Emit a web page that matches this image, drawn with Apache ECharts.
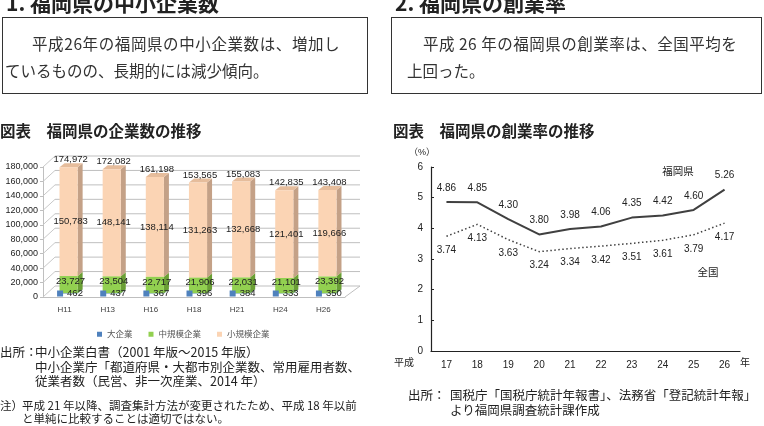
<!DOCTYPE html>
<html>
<head>
<meta charset="utf-8">
<script src="https://cdn.jsdelivr.net/npm/echarts@6/dist/echarts.min.js"></script>
<style>
  body { margin: 0; background: #fff; }
  #page { position: relative; width: 764px; height: 426px; overflow: hidden; font-family: "Noto Sans CJK JP", sans-serif; color: #222; }
  #main { position: absolute; left: 0; top: 0; width: 764px; height: 426px; }
  .t { position: absolute; white-space: nowrap; }
  .h1 { font-size: 21px; font-weight: bold; line-height: 21px; }
  .box { position: absolute; border: 1.5px solid #333; box-sizing: border-box; }
  .lead { font-size: 15.5px; line-height: 16px; color: #333; }
  .cap { font-size: 15.5px; font-weight: bold; line-height: 16px; }
  .src { font-size: 12.5px; line-height: 14px; }
  .note { font-size: 11.5px; line-height: 13px; }
</style>
</head>
<body>
<div id="page">
  <div id="main"></div>

  <div class="t h1" style="left:6px;top:-8px;">1. 福岡県の中小企業数</div>
  <div class="box" style="left:2px;top:17px;width:366px;height:77px;"></div>
  <div class="t lead" style="left:32px;top:35px;letter-spacing:0.6px;">平成26年の福岡県の中小企業数は、増加し</div>
  <div class="t lead" style="left:5px;top:62px;">ているものの、長期的には減少傾向。</div>
  <div class="t cap" style="left:0px;top:122px;">図表　福岡県の企業数の推移</div>
  <div class="t src" style="left:0px;top:345px;">出所：</div>
  <div class="t src" style="left:35px;top:345px;">中小企業白書（2001 年版～2015 年版）</div>
  <div class="t src" style="left:35px;top:360px;">中小企業庁「都道府県・大都市別企業数、常用雇用者数、</div>
  <div class="t src" style="left:35px;top:374px;">従業者数（民営、非一次産業、2014 年）</div>
  <div class="t note" style="left:0px;top:399px;">注）</div>
  <div class="t note" style="left:22px;top:399px;">平成 21 年以降、調査集計方法が変更されたため、平成 18 年以前</div>
  <div class="t note" style="left:22px;top:412px;">と単純に比較することは適切ではない。</div>

  <div class="t h1" style="left:395px;top:-8px;">2. 福岡県の創業率</div>
  <div class="box" style="left:391px;top:17px;width:371px;height:77px;"></div>
  <div class="t lead" style="left:423px;top:35px;letter-spacing:0.5px;">平成 26 年の福岡県の創業率は、全国平均を</div>
  <div class="t lead" style="left:407px;top:62px;">上回った。</div>
  <div class="t cap" style="left:393px;top:122px;">図表　福岡県の創業率の推移</div>
  <div class="t src" style="left:408px;top:388px;">出所：</div>
  <div class="t src" style="left:450px;top:388px;">国税庁「国税庁統計年報書」、法務省「登記統計年報」</div>
  <div class="t src" style="left:450px;top:403px;">より福岡県調査統計課作成</div>
</div>
<script>
// 企業数（H11〜H26）
var cats1 = ['H11', 'H13', 'H16', 'H18', 'H21', 'H24', 'H26'];
var large = [462, 437, 367, 396, 384, 333, 350];
var medium = [23727, 23504, 22717, 21906, 22031, 21101, 23392];
var small = [150783, 148141, 138114, 131263, 132668, 121401, 119666];
var totals = [174972, 172082, 161198, 153565, 155083, 142835, 143408];
var yTicks1 = [0, 20000, 40000, 60000, 80000, 100000, 120000, 140000, 160000, 180000];

// 創業率（平成17〜26年）
var years = ['17', '18', '19', '20', '21', '22', '23', '24', '25', '26'];
var fukuoka = [4.86, 4.85, 4.30, 3.80, 3.98, 4.06, 4.35, 4.42, 4.60, 5.26];
var zenkoku = [3.74, 4.13, 3.63, 3.24, 3.34, 3.42, 3.51, 3.61, 3.79, 4.17];

var FONT = '"Liberation Sans", "Noto Sans CJK JP", sans-serif';
var fmt = function (v) { return Number(v).toLocaleString('en-US'); };

var stackLarge = [], stackMedium = [], stackSmall = [], totalData = [];
for (var i = 0; i < cats1.length; i++) {
  var b1 = large[i], b2 = large[i] + medium[i];
  stackLarge.push([i, 0, b1, large[i]]);
  stackMedium.push([i, b1, b2, medium[i]]);
  stackSmall.push([i, b2, b2 + small[i], small[i]]);
  totalData.push([i, totals[i]]);
}

// 棒の前面の位置
function front(api) {
  var i = api.value(0);
  var p0 = api.coord([i, api.value(1)]);
  var p1 = api.coord([i, api.value(2)]);
  var w = api.size([1, 0])[0] * 0.42;
  var x0 = p0[0] - w / 2 + 4;
  return { x0: x0, x1: x0 + w, w: w, cx: x0 + w / 2, yb: p0[1] - 3.5, yt: p1[1] - 3.5 };
}

// 疑似3Dの直方体
function cuboid(face, side, top) {
  return function (params, api) {
    var f = front(api);
    return {
      type: 'group',
      children: [
        { type: 'polygon', shape: { points: [[f.x1, f.yb], [f.x1 + 5, f.yb - 4], [f.x1 + 5, f.yt - 4], [f.x1, f.yt]] }, style: { fill: side } },
        { type: 'polygon', shape: { points: [[f.x0, f.yt], [f.x1, f.yt], [f.x1 + 5, f.yt - 4], [f.x0 + 5, f.yt - 4]] }, style: { fill: top } },
        { type: 'rect', shape: { x: f.x0, y: f.yt, width: f.w, height: Math.max(f.yb - f.yt, 0) }, style: { fill: face } }
      ]
    };
  };
}

// 各区分のラベル
function segLabel(kind) {
  return function (params, api) {
    var f = front(api);
    var txt = fmt(api.value(3));
    if (kind === 'large') {
      return {
        type: 'group',
        children: [
          { type: 'rect', shape: { x: f.cx - 11.5, y: f.yb - 3, width: 6, height: 6 }, style: { fill: '#4f81bd' } },
          { type: 'text', style: { text: txt, x: f.cx - 1.5, y: f.yb, align: 'left', verticalAlign: 'middle', font: '9.5px ' + FONT, fill: '#222' } }
        ]
      };
    }
    var ym = (f.yb + f.yt) / 2 - (kind === 'medium' ? 3 : 0);
    return { type: 'text', style: { text: txt, x: f.cx + 2, y: ym, align: 'center', verticalAlign: 'middle', font: '9.5px ' + FONT, fill: '#222' } };
  };
}

var rateLabel = function (p) { return p.value.toFixed(2); };

var option = {
  animation: false,
  textStyle: { fontFamily: FONT },
  legend: {
    left: 92, top: 325, icon: 'rect', itemWidth: 5, itemHeight: 5, itemGap: 16,
    textStyle: { fontSize: 8.5, color: '#555' },
    data: ['大企業', '中規模企業', '小規模企業']
  },
  grid: [
    { left: 43, top: 167, width: 302, height: 130 },
    { left: 431, top: 167, width: 309, height: 184 }
  ],
  xAxis: [
    {
      gridIndex: 0, type: 'category', data: cats1,
      axisLine: { lineStyle: { color: '#bfbfbf' } },
      axisTick: { length: 3, lineStyle: { color: '#bfbfbf' } },
      axisLabel: { fontSize: 8, color: '#404040', margin: 9 }
    },
    {
      gridIndex: 1, type: 'category', data: years,
      axisLine: { lineStyle: { color: '#222', width: 1.2 } },
      axisTick: { inside: true, length: 3, lineStyle: { color: '#222' } },
      axisLabel: { fontSize: 10, color: '#222', margin: 9 }
    }
  ],
  yAxis: [
    {
      gridIndex: 0, type: 'value', min: 0, max: 180000, interval: 20000,
      axisLine: { show: true, lineStyle: { color: '#bfbfbf' } },
      axisTick: { show: true, length: 3, lineStyle: { color: '#bfbfbf' } },
      axisLabel: { fontSize: 9, color: '#222', margin: 5, formatter: fmt },
      splitLine: { show: false }
    },
    {
      gridIndex: 1, type: 'value', min: 0, max: 6, interval: 1,
      axisLine: { show: true, lineStyle: { color: '#222', width: 1.2 } },
      axisTick: { show: true, inside: true, length: 3, lineStyle: { color: '#222' } },
      axisLabel: { fontSize: 10, color: '#222', margin: 8 },
      splitLine: { show: false }
    }
  ],
  graphic: [
    { type: 'text', x: 422, y: 153, style: { text: '（%）', font: '9px ' + FONT, fill: '#222', align: 'center', verticalAlign: 'middle' } },
    { type: 'text', x: 404, y: 363, style: { text: '平成', font: '10px ' + FONT, fill: '#222', align: 'center', verticalAlign: 'middle' } },
    { type: 'text', x: 745, y: 363, style: { text: '年', font: '10px ' + FONT, fill: '#222', align: 'center', verticalAlign: 'middle' } },
    { type: 'text', x: 678, y: 172, style: { text: '福岡県', font: '10.5px ' + FONT, fill: '#222', align: 'center', verticalAlign: 'middle' } },
    { type: 'text', x: 708, y: 273, style: { text: '全国', font: '10.5px ' + FONT, fill: '#222', align: 'center', verticalAlign: 'middle' } }
  ],
  series: [
    {
      // 奥の壁の目盛線と側壁
      type: 'custom', xAxisIndex: 0, yAxisIndex: 0, silent: true, z: 1,
      data: yTicks1.map(function (v) { return [0, v]; }),
      renderItem: function (params, api) {
        var cs = params.coordSys;
        var y = api.coord([0, api.value(1)])[1];
        var kids = [
          { type: 'line', shape: { x1: cs.x, y1: y, x2: cs.x + 12, y2: y - 11 }, style: { stroke: '#c8c8c8', lineWidth: 1 } },
          { type: 'line', shape: { x1: cs.x + 12, y1: y - 11, x2: cs.x + cs.width + 15, y2: y - 11 }, style: { stroke: '#bfbfbf', lineWidth: 1 } }
        ];
        if (api.value(1) === 0) {
          kids.push({ type: 'line', shape: { x1: cs.x + cs.width, y1: y, x2: cs.x + cs.width + 15, y2: y - 11 }, style: { stroke: '#bfbfbf', lineWidth: 1 } });
        }
        return { type: 'group', children: kids };
      }
    },
    {
      name: '大企業', type: 'custom', xAxisIndex: 0, yAxisIndex: 0, z: 2,
      itemStyle: { color: '#4f81bd' },
      data: stackLarge, renderItem: cuboid('#4f81bd', '#3a6496', '#7a9fd0')
    },
    {
      name: '中規模企業', type: 'custom', xAxisIndex: 0, yAxisIndex: 0, z: 3,
      itemStyle: { color: '#92d050' },
      data: stackMedium, renderItem: cuboid('#92d050', '#6a9f35', '#a9dc70')
    },
    {
      name: '小規模企業', type: 'custom', xAxisIndex: 0, yAxisIndex: 0, z: 4,
      itemStyle: { color: '#fbd4b4' },
      data: stackSmall, renderItem: cuboid('#fbd4b4', '#c4a187', '#e6bd9c')
    },
    { type: 'custom', xAxisIndex: 0, yAxisIndex: 0, silent: true, z: 6, data: stackLarge, renderItem: segLabel('large') },
    { type: 'custom', xAxisIndex: 0, yAxisIndex: 0, silent: true, z: 6, data: stackMedium, renderItem: segLabel('medium') },
    { type: 'custom', xAxisIndex: 0, yAxisIndex: 0, silent: true, z: 6, data: stackSmall, renderItem: segLabel('small') },
    {
      // 合計ラベル
      type: 'custom', xAxisIndex: 0, yAxisIndex: 0, silent: true, z: 6,
      data: totalData,
      renderItem: function (params, api) {
        var p = api.coord([api.value(0), api.value(1)]);
        return { type: 'text', style: { text: fmt(api.value(1)), x: p[0] + 6, y: p[1] - 11, align: 'center', verticalAlign: 'middle', font: '9.5px ' + FONT, fill: '#222' } };
      }
    },
    {
      name: '福岡県', type: 'line', xAxisIndex: 1, yAxisIndex: 1,
      data: fukuoka, symbol: 'circle', symbolSize: 0, showSymbol: true,
      itemStyle: { color: '#404040' },
      lineStyle: { color: '#404040', width: 2 },
      label: { show: true, position: 'top', distance: 9, fontSize: 10, color: '#222', formatter: rateLabel }
    },
    {
      name: '全国', type: 'line', xAxisIndex: 1, yAxisIndex: 1,
      data: zenkoku, symbol: 'circle', symbolSize: 0, showSymbol: true,
      itemStyle: { color: '#404040' },
      lineStyle: { color: '#404040', width: 1.5, type: [1.5, 2.5] },
      label: { show: true, position: 'bottom', distance: 9, fontSize: 10, color: '#222', formatter: rateLabel }
    }
  ]
};

var myChart = echarts.init(document.getElementById('main'));
myChart.setOption(option);
</script>
</body>
</html>
